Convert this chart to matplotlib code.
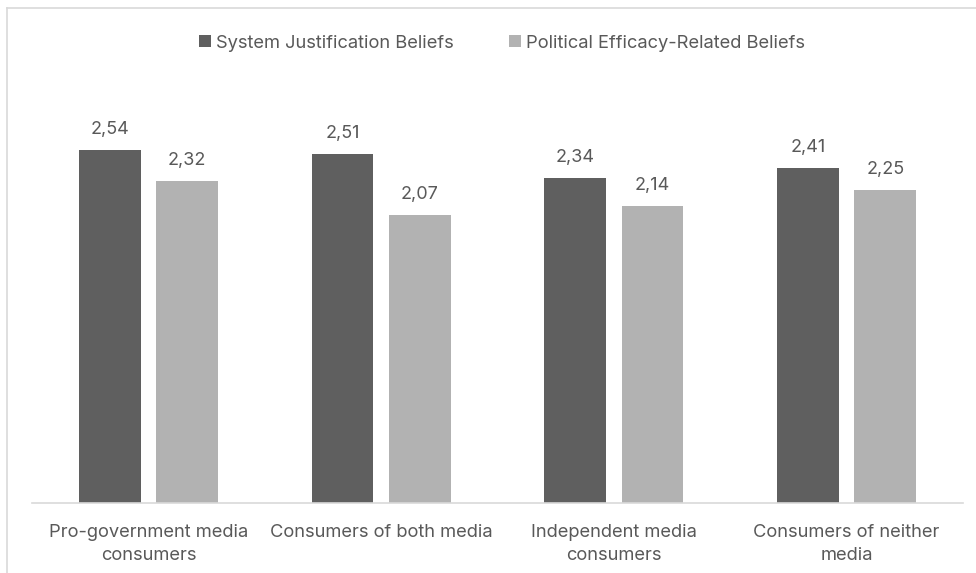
import numpy as np
import matplotlib.pyplot as plt
from matplotlib.lines import Line2D

# Data
categories = ['Pro-government media\nconsumers', 'Consumers of both media',
              'Independent media\nconsumers', 'Consumers of neither\nmedia']
system_justification = [2.54, 2.51, 2.34, 2.41]
political_efficacy = [2.32, 2.07, 2.14, 2.25]
series_names = ['System Justification Beliefs', 'Political Efficacy-Related Beliefs']

dark = '#5f5f5f'
light = '#b2b2b2'
text_color = '#595959'

plt.rcParams['font.family'] = ['Inter', 'DejaVu Sans']

W, H = 976, 573
fig = plt.figure(figsize=(W / 100, H / 100), dpi=100)
ax = fig.add_axes([32 / W, 70 / H, 931 / W, 417 / H])

x = np.arange(len(categories))
width = 0.266
off = 0.166
b1 = ax.bar(x - off, system_justification, width, color=dark, label=series_names[0])
b2 = ax.bar(x + off, political_efficacy, width, color=light, label=series_names[1])

for bars, vals in ((b1, system_justification), (b2, political_efficacy)):
    for bar, v in zip(bars, vals):
        ax.annotate(f'{v:.2f}'.replace('.', ','),
                    (bar.get_x() + bar.get_width() / 2, v),
                    xytext=(0, 8.5), textcoords='offset points',
                    ha='center', va='bottom', fontsize=13, color=text_color)

ax.set_xlim(-0.5, 3.5)
ax.set_ylim(0, 3)
ax.set_yticks([])
ax.set_xticks(x)
ax.set_xticklabels(categories, fontsize=13.2, color=text_color, linespacing=1.5)
ax.tick_params(axis='x', length=0, pad=15)
for s in ['top', 'right', 'left']:
    ax.spines[s].set_visible(False)
ax.spines['bottom'].set_color('#d9d9d9')
ax.spines['bottom'].set_linewidth(1.2)

fig.legend(handles=[b1, b2], labels=series_names, loc='center',
           bbox_to_anchor=(0.5 + 14 / W, 1 - 43 / H), ncol=2, frameon=False,
           fontsize=13.2, labelcolor=text_color, handlelength=0.65,
           handleheight=0.65, handletextpad=0.3, columnspacing=3.0)

# light frame of the chart area
fig.add_artist(Line2D([7 / W, 1], [1 - 8 / H, 1 - 8 / H], color='#d9d9d9', lw=1.2))
fig.add_artist(Line2D([7 / W, 7 / W], [0, 1 - 8 / H], color='#d9d9d9', lw=1.2))

fig.savefig('out.png', dpi=100)
